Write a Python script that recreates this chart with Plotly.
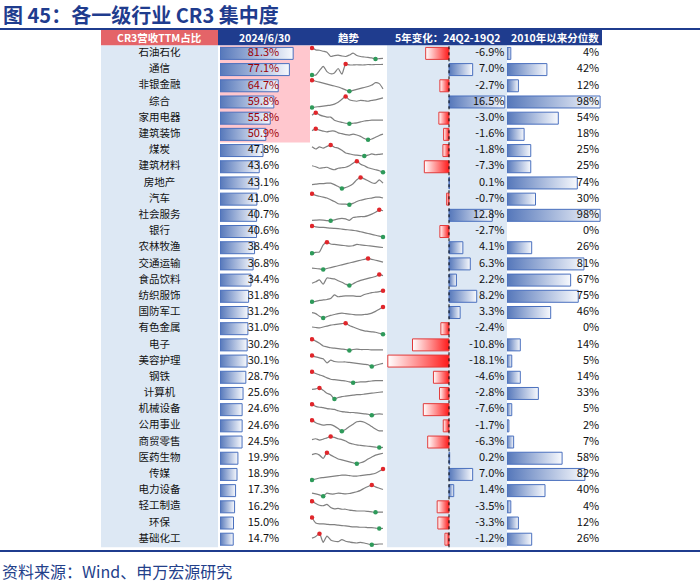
import plotly.graph_objects as go

# ---------------- data ----------------
industries = ["石油石化", "通信", "非银金融", "综合", "家用电器", "建筑装饰", "煤炭", "建筑材料",
              "房地产", "汽车", "社会服务", "银行", "农林牧渔", "交通运输", "食品饮料", "纺织服饰",
              "国防军工", "有色金属", "电子", "美容护理", "钢铁", "计算机", "机械设备", "公用事业",
              "商贸零售", "医药生物", "传媒", "电力设备", "轻工制造", "环保", "基础化工"]
cr3_share = [81.3, 77.1, 64.7, 59.8, 55.8, 50.9, 47.8, 43.6, 43.1, 41.0, 40.7, 40.6, 38.4, 36.8,
             34.4, 31.8, 31.2, 31.0, 30.2, 30.1, 28.7, 25.6, 24.6, 24.6, 24.5, 19.9, 18.9, 17.3,
             16.2, 15.0, 14.7]
change_5y = [-6.9, 7.0, -2.7, 16.5, -3.0, -1.6, -1.8, -7.3, 0.1, -0.7, 12.8, -2.7, 4.1, 6.3,
             2.2, 8.2, 3.3, -2.4, -10.8, -18.1, -4.6, -2.8, -7.6, -1.7, -6.3, 0.2, 7.0, 1.4,
             -3.5, -3.3, -1.2]
percentile = [4, 42, 12, 98, 54, 18, 25, 25, 74, 30, 98, 0, 26, 81, 67, 75, 46, 0, 14, 5, 14,
              33, 5, 2, 7, 58, 82, 40, 4, 12, 26]
top_n_highlight = 6

# trend sparklines (relative levels)
trend = [
    [33, 29, 28, 26, 24, 15, 17, 18, 16, 15, 18, 22, 17, 15, 14, 13, 12, 10, 10.5, 11],
    [10, 10, 20, 30, 18, 13, 15, 25, 12, 35, 33, 33, 33.5, 33, 33, 34, 33.5, 34, 34, 34.5],
    [25, 23, 21, 19, 17, 15, 13, 11, 8, 5, 2, 4, 6, 8, 10, 12, 15, 20, 18, 7],
    [5, 6, 7, 8, 9, 10, 12, 16, 22, 28, 21, 19, 18, 20, 19, 18, 20, 21, 23, 25],
    [26, 32, 27, 24, 22, 22, 15, 12, 10, 8, 7, 8, 9, 11, 13, 14, 15, 15, 15, 15],
    [28, 32, 29, 27, 25, 27, 27, 23, 21, 19, 18, 20, 18, 15, 10, 7, 9, 13, 17, 20],
    [28, 23, 28, 25, 29, 32, 27, 25, 20, 14, 12, 10, 9, 8, 7, 9, 12, 10, 11, 12],
    [20, 18, 15, 16, 17, 14, 12, 15, 16, 17, 20, 25, 29, 23, 20, 16, 14, 12, 10, 7],
    [15, 16, 17, 17, 18, 18, 15, 11, 7, 9, 12, 17, 25, 30, 27, 23, 19, 18, 25, 18],
    [32, 28, 26, 24, 22, 18, 14, 9, 8, 8, 7, 10, 14, 17, 19, 21, 22, 24, 24, 22],
    [12, 12.5, 13, 12.5, 11.5, 11, 13, 15, 16, 15, 12, 18, 19, 20, 20, 22, 25, 29, 34, 32],
    [35, 33, 32, 32, 31, 30, 29.5, 29, 28, 27, 26, 25, 24, 22, 20, 18, 16, 14, 12, 10],
    [7, 9, 10, 26, 32, 28, 27, 26, 25, 24, 23, 24, 27, 26, 25, 24, 23, 22, 21, 20],
    [11, 10, 9, 8, 10, 12, 14, 16, 18, 20, 22, 24, 26, 28, 30, 32, 30, 28, 26, 24],
    [17, 20, 24, 15, 28, 27, 26, 22, 19, 15, 12, 16, 20, 23, 25, 27, 29, 31, 35, 33],
    [7, 8, 10, 11, 12, 14, 22, 18, 19, 20, 20, 20, 19, 19, 23, 25, 27, 28, 29, 31],
    [20, 18, 12, 8, 11, 14, 16, 18, 19, 18, 17, 16, 15, 15, 16, 17, 19, 23, 28, 33],
    [20, 19, 18, 20, 22, 24, 25, 26, 27, 28, 23, 20, 17, 14, 12, 11, 10, 9, 7, 5],
    [35, 31, 26, 20, 18, 16, 15, 14, 13, 12, 10, 12, 13, 12, 12, 12, 11, 11, 11, 11],
    [32, 29, 27, 25, 16, 22, 19, 18, 18, 18, 17, 16, 15, 14, 13, 12, 8, 11, 13, 15],
    [35, 31, 28, 25, 21, 18, 17, 16, 15, 14, 12, 10, 11, 12, 12, 13, 14, 15, 15, 15],
    [30, 31, 33, 28, 22, 19, 10, 13, 15, 16, 17, 18, 19, 19, 20, 21, 22, 23, 24, 25],
    [32, 27, 25, 24, 22, 21, 20, 17, 15, 14, 13, 13, 12, 11, 10, 9, 7, 9, 10, 9],
    [33, 28, 25, 23, 24, 24, 21, 16, 10, 14, 20, 25, 30, 31, 29, 25, 20, 15, 11, 11],
    [28, 30, 27, 29, 32, 35, 33, 30, 28, 25, 20, 18, 16, 15, 14, 13, 12, 11, 10, 10.5],
    [26, 28, 25, 18, 30, 25, 21, 17, 15, 13, 11, 9, 7, 9, 12, 17, 21, 25, 27, 29],
    [5, 7, 9, 10, 11, 12, 13, 14, 15, 15, 14, 13, 13, 14, 15, 16, 17, 19, 23, 28],
    [17, 15, 13, 10, 17, 15, 15, 17, 16, 15, 16, 18, 20, 23, 28, 32, 35, 31, 28, 25],
    [32, 27, 23, 22, 25, 18, 15, 16, 14, 14, 12, 11, 10, 10, 10, 9, 8, 7, 7.5, 7.5],
    [35, 22, 20, 20, 19, 18, 18, 17, 16, 15, 14, 13, 13, 12, 12, 11, 11, 10, 9, 9.5],
    [27, 32, 40, 15, 33, 22, 18, 17, 23, 18, 16, 14, 13, 15, 13, 10, 8, 9, 10, 10],
]

title_text = "图 45：各一级行业 CR3 集中度"
source_text = "资料来源：Wind、申万宏源研究"
headers = ["CR3营收TTM占比", "2024/6/30", "趋势", "5年变化：24Q2-19Q2", "2010年以来分位数"]

# ---------------- layout geometry (page pixels) ----------------
W, H = 700, 585
NAVY = "#1F3C8E"
FONT = "Noto Sans CJK SC"
row_top, row_bot = 45.3, 547.3
n = len(industries)


def px(x):
    return x / W


def py(y):
    return (H - y) / H


col_name = (101, 218)
col_cr3 = (220, 310)
col_spark = (310, 387)
col_chg = (387, 507)
col_pct = (507, 602)

chg_scale = 3.38  # px per %
chg_zero = 449
chg_range = [-(chg_zero - col_chg[0]) / chg_scale, (col_chg[1] - chg_zero) / chg_scale]

fig = go.Figure()
half = 0.37


def grad_bar(x0, x1, i, axis, c_start, c_end, edge):
    lo, hi = min(x0, x1), max(x0, x1)
    fig.add_trace(go.Scatter(
        x=[lo, hi, hi, lo, lo], y=[i - half, i - half, i + half, i + half, i - half],
        xaxis=axis, yaxis="y", mode="lines", fill="toself",
        fillgradient=dict(type="horizontal", colorscale=[[0, c_start], [1, c_end]]),
        line=dict(color=edge, width=1), hoverinfo="skip", showlegend=False))


BLUE0, BLUE1, BLUE_EDGE = "#5577BA", "#F7F9FD", "#4A70BE"
RED0, RED1, RED_EDGE = "#FFFFFF", "#FF1A1A", "#E23A3A"

for i in range(n):
    grad_bar(0, cr3_share[i], i, "x2", BLUE0, BLUE1, BLUE_EDGE)
    v = change_5y[i]
    if v < 0:
        grad_bar(v, 0, i, "x4", RED0, RED1, RED_EDGE)
    elif v > 0:
        grad_bar(0, v, i, "x4", BLUE0, BLUE1, BLUE_EDGE)
    if percentile[i] > 0:
        grad_bar(0, percentile[i], i, "x5", BLUE0, BLUE1, BLUE_EDGE)

# sparklines
for i, vals in enumerate(trend):
    lo, hi = min(vals), max(vals)
    ys = [i + 0.34 - 0.68 * (v - lo) / (hi - lo) for v in vals]
    xs = list(range(len(vals)))
    fig.add_trace(go.Scatter(x=xs, y=ys, xaxis="x3", yaxis="y", mode="lines",
                             line=dict(color="#808080", width=1.2, shape="spline", smoothing=0.6),
                             hoverinfo="skip", showlegend=False))
    imax = vals.index(hi)
    imin = vals.index(lo)
    fig.add_trace(go.Scatter(x=[xs[imax], xs[imin]], y=[ys[imax], ys[imin]], xaxis="x3", yaxis="y",
                             mode="markers", marker=dict(color=["#E0262B", "#2E9A5A"], size=4.5),
                             hoverinfo="skip", showlegend=False))

rows = list(range(n))
txt_font = dict(family=FONT, size=11, color="#111111")
# names
fig.add_trace(go.Scatter(x=[0.5] * n, y=rows, xaxis="x", yaxis="y", mode="text", text=industries,
                         textposition="middle center",
                         textfont=dict(family=FONT, size=10.5, color="#111111"), hoverinfo="skip",
                         showlegend=False))
# CR3 values
cr3_colors = ["#9C0006" if k < top_n_highlight else "#111111" for k in range(n)]
fig.add_trace(go.Scatter(x=[65.8] * n, y=rows, xaxis="x2", yaxis="y", mode="text",
                         text=[f"{v:.1f}%" for v in cr3_share], textposition="middle left",
                         textfont=dict(family=FONT, size=11, color=cr3_colors), hoverinfo="skip",
                         showlegend=False))
# change values
fig.add_trace(go.Scatter(x=[16.4] * n, y=rows, xaxis="x4", yaxis="y", mode="text",
                         text=[f"{v:.1f}%" for v in change_5y], textposition="middle left",
                         textfont=txt_font, hoverinfo="skip", showlegend=False))
# percentile values
fig.add_trace(go.Scatter(x=[97.0] * n, y=rows, xaxis="x5", yaxis="y", mode="text",
                         text=[f"{v:d}%" for v in percentile], textposition="middle left",
                         textfont=txt_font, hoverinfo="skip", showlegend=False))

shapes = []
# backgrounds
shapes.append(dict(type="rect", xref="paper", yref="paper", x0=px(col_name[0]), x1=px(col_name[1]),
                   y0=py(row_bot), y1=py(row_top), fillcolor="#DDE8F4", line=dict(width=0), layer="below"))
shapes.append(dict(type="rect", xref="paper", yref="paper", x0=px(col_chg[0]), x1=px(col_chg[1]),
                   y0=py(row_bot), y1=py(row_top), fillcolor="#DDE8F4", line=dict(width=0), layer="below"))
shapes.append(dict(type="rect", xref="paper", yref="y", x0=px(col_cr3[0]), x1=px(col_cr3[1]),
                   y0=-0.5, y1=top_n_highlight - 0.5, fillcolor="#FFC7CE", line=dict(width=0),
                   layer="below"))
# zero line of change column
shapes.append(dict(type="line", xref="x4", yref="paper", x0=0, x1=0, y0=py(row_bot), y1=py(row_top),
                   line=dict(color="#000000", width=1, dash="dot")))
# headers
shapes.append(dict(type="rect", xref="paper", yref="paper", x0=px(col_name[0]), x1=px(col_name[1]),
                   y0=py(45.3), y1=py(30), fillcolor="#E46468", line=dict(width=0)))
shapes.append(dict(type="rect", xref="paper", yref="paper", x0=px(col_name[1]), x1=px(col_pct[1]),
                   y0=py(45.3), y1=py(30), fillcolor=NAVY, line=dict(width=0)))
# rules
shapes.append(dict(type="line", xref="paper", yref="paper", x0=0, x1=1, y0=py(29), y1=py(29),
                   line=dict(color=NAVY, width=2)))
shapes.append(dict(type="line", xref="paper", yref="paper", x0=0, x1=1, y0=py(551), y1=py(551),
                   line=dict(color=NAVY, width=2)))

annotations = []
hdr_cols = [col_name, col_cr3, col_spark, col_chg, col_pct]
for h, c in zip(headers, hdr_cols):
    annotations.append(dict(text=f"<b>{h}</b>", xref="paper", yref="paper", x=px((c[0] + c[1]) / 2),
                            y=py(37.0), xanchor="center", yanchor="middle", showarrow=False,
                            borderpad=0,
                            font=dict(family=FONT, size=10.5, color="white")))
annotations.append(dict(text=f"<b>{title_text}</b>", xref="paper", yref="paper", x=px(1), y=py(14),
                        xanchor="left", yanchor="middle", showarrow=False,
                        font=dict(family=FONT, size=20, color=NAVY)))
annotations.append(dict(text=source_text, xref="paper", yref="paper", x=px(0), y=py(571),
                        xanchor="left", yanchor="middle", showarrow=False,
                        font=dict(family=FONT, size=16, color="#23408A")))

n_spark = len(trend[0])
sp_unit = (383 - 312) / (n_spark - 1)
spark_range = [-(312 - col_spark[0]) / sp_unit, (n_spark - 1) + (col_spark[1] - 383) / sp_unit]

ax_common = dict(visible=False, showgrid=False, zeroline=False, fixedrange=True)
fig.update_layout(
    width=W, height=H, margin=dict(l=0, r=0, t=0, b=0),
    paper_bgcolor="white", plot_bgcolor="rgba(0,0,0,0)", showlegend=False,
    shapes=shapes, annotations=annotations,
    xaxis=dict(domain=[px(col_name[0]), px(col_name[1])], range=[0, 1], anchor="y", **ax_common),
    xaxis2=dict(domain=[px(col_cr3[0]), px(col_cr3[1])], range=[0, 100], anchor="y", **ax_common),
    xaxis3=dict(domain=[px(col_spark[0]), px(col_spark[1])], range=spark_range, anchor="y", **ax_common),
    xaxis4=dict(domain=[px(col_chg[0]), px(col_chg[1])], range=chg_range, anchor="y", **ax_common),
    xaxis5=dict(domain=[px(col_pct[0]), px(col_pct[1])], range=[0, 100], anchor="y", **ax_common),
    yaxis=dict(domain=[py(row_bot), py(row_top)], range=[n - 0.5, -0.5], **ax_common),
)

# remove the page's default body margin so the figure sits at the top-left corner
fig.write_html("out.html", config={"displayModeBar": False},
               post_script="document.body.style.margin='0';document.body.style.overflow='hidden';")
